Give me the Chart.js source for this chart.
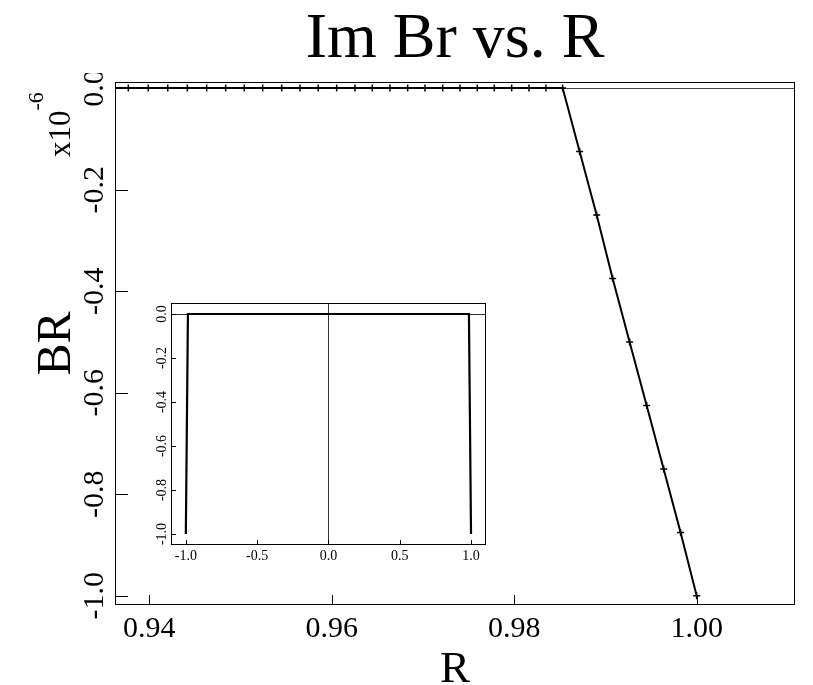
<!DOCTYPE html>
<html><head><meta charset="utf-8">
<script src="https://cdn.jsdelivr.net/npm/chart.js@4/dist/chart.umd.min.js"></script>
<style>
html,body{margin:0;padding:0;background:#fff;}
#wrap{position:relative;width:813px;height:685px;background:#fff;}
#main{position:absolute;left:0;top:0;}
#inset{position:absolute;left:140px;top:290px;}
</style></head><body>
<div id="wrap"><canvas id="main" width="813" height="685"></canvas><canvas id="inset" width="360" height="280"></canvas></div>
<script>
// ---- text ----
const TITLE = 'Im Br vs. R';
const X_TITLE = 'R';
const Y_TITLE = 'BR';
const Y_MULT_BASE = 'x10';
const Y_MULT_EXP = '-6';

// ---- main series (BR in units of 1e-6) ----
const rValues = [0.93550, 0.93770, 0.93989, 0.94202, 0.94417, 0.94629, 0.94837, 0.95041, 0.95243, 0.95451,
                 0.95652, 0.95852, 0.96054, 0.96255, 0.96444, 0.96638, 0.96832, 0.97022, 0.97216, 0.97406,
                 0.97595, 0.97782, 0.97972, 0.98162, 0.98348, 0.98531, 0.98717, 0.98904, 0.99079, 0.99265,
                 0.99452, 0.99638, 0.99824, 1.00000];
const brValues = [0, 0, 0, 0, 0, 0, 0, 0, 0, 0,
                  0, 0, 0, 0, 0, 0, 0, 0, 0, 0,
                  0, 0, 0, 0, 0, 0, -0.125, -0.25, -0.375, -0.5,
                  -0.625, -0.75, -0.875, -1.0];

// ---- main axes ----
const xTickValues = [0.94, 0.96, 0.98, 1.00];
const xTickLabels = ['0.94', '0.96', '0.98', '1.00'];
const yTickValues = [0, -0.2, -0.4, -0.6, -0.8, -1.0];
const yTickLabels = ['0.0', '-0.2', '-0.4', '-0.6', '-0.8', '-1.0'];

// ---- inset series ----
const insetR = [-1.0, -0.9853, 0, 0.9853, 1.0];
const insetBR = [-1.0, 0, 0, 0, -1.0];
const insetXTicks = [-1.0, -0.5, 0, 0.5, 1.0];
const insetXLabels = ['-1.0', '-0.5', '0.0', '0.5', '1.0'];
const insetYTicks = [0, -0.2, -0.4, -0.6, -0.8, -1.0];
const insetYLabels = ['0.0', '-0.2', '-0.4', '-0.6', '-0.8', '-1.0'];

const FONT = 'Liberation Serif, Times New Roman, serif';
Chart.defaults.font.family = FONT;

function pts(xs, ys) { return xs.map((x, i) => ({x: x, y: ys[i]})); }

const mainDecor = {
  id: 'mainDecor',
  afterDraw(chart) {
    const ctx = chart.ctx, ca = chart.chartArea;
    const xs = chart.scales.x, ys = chart.scales.y;
    ctx.save();
    ctx.strokeStyle = '#000';
    ctx.lineWidth = 1;
    ctx.strokeRect(ca.left + 0.5, ca.top + 0.5, ca.right - ca.left - 1, ca.bottom - ca.top - 1);
    ctx.beginPath();
    xTickValues.forEach(v => {
      const px = Math.round(xs.getPixelForValue(v)) + 0.5;
      ctx.moveTo(px, ca.bottom); ctx.lineTo(px, ca.bottom - 10);
    });
    yTickValues.forEach(v => {
      const py = Math.round(ys.getPixelForValue(v)) + 0.5;
      ctx.moveTo(ca.left, py); ctx.lineTo(ca.left + 13, py);
    });
    ctx.stroke();
    ctx.fillStyle = '#000';
    // x tick labels
    ctx.font = '30px ' + FONT;
    ctx.textAlign = 'center';
    ctx.textBaseline = 'alphabetic';
    xTickValues.forEach((v, i) => ctx.fillText(xTickLabels[i], xs.getPixelForValue(v), 637));
    // y tick labels (rotated), trimmed at the top like the reference
    ctx.save();
    ctx.beginPath();
    ctx.rect(0, 73, ca.left, chart.height - 73);
    ctx.clip();
    yTickValues.forEach((v, i) => {
      ctx.save();
      ctx.translate(103, ys.getPixelForValue(v));
      ctx.rotate(-Math.PI / 2);
      ctx.fillText(yTickLabels[i], 0, 0);
      ctx.restore();
    });
    ctx.restore();
    // title
    ctx.font = '64px ' + FONT;
    ctx.fillText(TITLE, (ca.left + ca.right) / 2, 57);
    // x title
    ctx.font = '45px ' + FONT;
    ctx.fillText(X_TITLE, (ca.left + ca.right) / 2, 682);
    // y title
    ctx.save();
    ctx.translate(70, (ca.top + ca.bottom) / 2);
    ctx.rotate(-Math.PI / 2);
    ctx.font = '48px ' + FONT;
    ctx.fillText(Y_TITLE, 0, 0);
    ctx.restore();
    // multiplier
    ctx.save();
    ctx.translate(70, 157);
    ctx.rotate(-Math.PI / 2);
    ctx.textAlign = 'left';
    ctx.font = '31px ' + FONT;
    ctx.fillText(Y_MULT_BASE, 0, 0);
    const w = ctx.measureText(Y_MULT_BASE).width;
    ctx.font = '22px ' + FONT;
    ctx.fillText(Y_MULT_EXP, w, -27);
    ctx.restore();
    ctx.restore();
  }
};

new Chart(document.getElementById('main'), {
  type: 'line',
  data: {
    datasets: [{
      data: pts(rValues, brValues),
      borderColor: '#000',
      backgroundColor: '#000',
      borderWidth: 2,
      pointStyle: 'cross',
      pointRadius: 3.5,
      pointBorderWidth: 1.5,
      pointBorderColor: '#000',
      tension: 0,
      fill: false
    }]
  },
  options: {
    responsive: false,
    animation: false,
    devicePixelRatio: 1,
    layout: {padding: {top: 82, right: 18, left: 0, bottom: 0}},
    plugins: {legend: {display: false}, tooltip: {enabled: false}, title: {display: false}},
    scales: {
      x: {
        type: 'linear', min: 0.93624, max: 1.01078,
        afterBuildTicks: s => { s.ticks = xTickValues.map(v => ({value: v})); },
        afterFit: s => { s.height = 80; },
        ticks: {display: false},
        grid: {display: false},
        border: {display: false}
      },
      y: {
        type: 'linear', min: -1.018, max: 0.012,
        afterBuildTicks: s => { s.ticks = yTickValues.map(v => ({value: v})); },
        afterFit: s => { s.width = 115; },
        ticks: {display: false},
        grid: {
          drawTicks: false,
          lineWidth: 1,
          color: c => (c.tick && c.tick.value === 0) ? '#444' : 'rgba(0,0,0,0)'
        },
        border: {display: false}
      }
    }
  },
  plugins: [mainDecor]
});

const insetDecor = {
  id: 'insetDecor',
  afterDraw(chart) {
    const ctx = chart.ctx, ca = chart.chartArea;
    const xs = chart.scales.x, ys = chart.scales.y;
    ctx.save();
    ctx.strokeStyle = '#000';
    ctx.lineWidth = 1;
    ctx.strokeRect(ca.left + 0.5, ca.top + 0.5, ca.right - ca.left - 1, ca.bottom - ca.top - 1);
    ctx.beginPath();
    insetXTicks.forEach(v => {
      const px = Math.round(xs.getPixelForValue(v)) + 0.5;
      ctx.moveTo(px, ca.bottom); ctx.lineTo(px, ca.bottom - 5);
    });
    insetYTicks.forEach(v => {
      const py = Math.round(ys.getPixelForValue(v)) + 0.5;
      ctx.moveTo(ca.left, py); ctx.lineTo(ca.left + 5, py);
    });
    ctx.stroke();
    ctx.fillStyle = '#000';
    ctx.font = '14px ' + FONT;
    ctx.textAlign = 'center';
    ctx.textBaseline = 'alphabetic';
    insetXTicks.forEach((v, i) => ctx.fillText(insetXLabels[i], xs.getPixelForValue(v), 270));
    insetYTicks.forEach((v, i) => {
      ctx.save();
      ctx.translate(25.5, ys.getPixelForValue(v));
      ctx.rotate(-Math.PI / 2);
      ctx.fillText(insetYLabels[i], 0, 0);
      ctx.restore();
    });
    ctx.restore();
  }
};

new Chart(document.getElementById('inset'), {
  type: 'line',
  data: {
    datasets: [{
      data: pts(insetR, insetBR),
      borderColor: '#000',
      borderWidth: 2.2,
      pointRadius: 0,
      tension: 0,
      fill: false
    }]
  },
  options: {
    responsive: false,
    animation: false,
    devicePixelRatio: 1,
    layout: {padding: {top: 13, right: 14, left: 0, bottom: 0}},
    plugins: {legend: {display: false}, tooltip: {enabled: false}},
    scales: {
      x: {
        type: 'linear', min: -1.104, max: 1.105,
        afterBuildTicks: s => { s.ticks = insetXTicks.map(v => ({value: v})); },
        afterFit: s => { s.height = 25; },
        ticks: {display: false},
        grid: {drawTicks: false, lineWidth: 1, color: c => (c.tick && c.tick.value === 0) ? '#333' : 'rgba(0,0,0,0)'},
        border: {display: false}
      },
      y: {
        type: 'linear', min: -1.05, max: 0.05,
        afterBuildTicks: s => { s.ticks = insetYTicks.map(v => ({value: v})); },
        afterFit: s => { s.width = 31; },
        ticks: {display: false},
        grid: {drawTicks: false, lineWidth: 1, color: c => (c.tick && c.tick.value === 0) ? '#333' : 'rgba(0,0,0,0)'},
        border: {display: false}
      }
    }
  },
  plugins: [insetDecor]
});
</script>
</body></html>
